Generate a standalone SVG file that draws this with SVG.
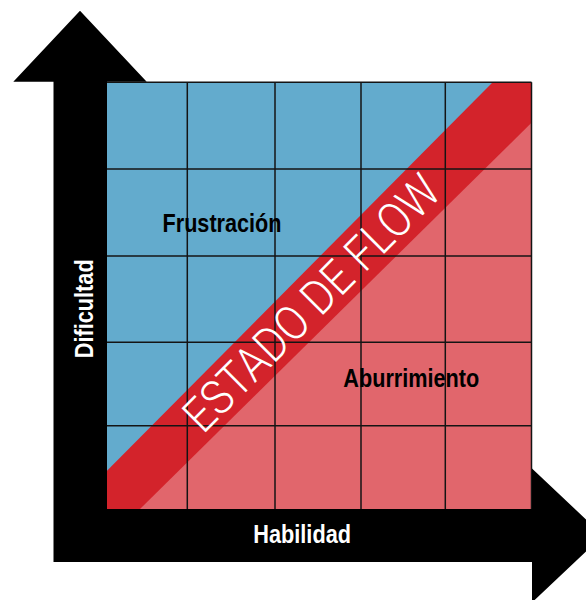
<svg xmlns="http://www.w3.org/2000/svg" width="586" height="600" viewBox="0 0 586 600">
  <style>
    .grid { stroke: #141414; stroke-width: 1.5; fill: none; }
    .lbl { font-family: "Liberation Sans", Arial, sans-serif; font-weight: bold; font-size: 26px; }
    .flow { font-family: "Roboto", "Open Sans", "DejaVu Sans", sans-serif; font-weight: 300; font-size: 48px; fill: #ffffff; }
  </style>
  <rect width="586" height="600" fill="#ffffff"/>
  <g id="chart">
    <rect id="zone-aburrimiento" x="107" y="82.3" width="424.5" height="426.7" fill="#e1666c"/>
    <polygon id="zone-flow" points="107,82.3 531.5,82.3 531.5,122.7 140,509 107,509" fill="#d3232b"/>
    <polygon id="zone-frustracion" points="107,82.3 492.7,82.3 107,470.7" fill="#63abcd"/>
    <g id="grid-lines" class="grid">
      <line x1="187.3" y1="82.3" x2="187.3" y2="509"/>
      <line x1="275" y1="82.3" x2="275" y2="509"/>
      <line x1="361" y1="82.3" x2="361" y2="509"/>
      <line x1="445.3" y1="82.3" x2="445.3" y2="509"/>
      <line x1="531.5" y1="82.3" x2="531.5" y2="509"/>
      <line x1="107" y1="82.3" x2="531.5" y2="82.3"/>
      <line x1="107" y1="169" x2="531.5" y2="169"/>
      <line x1="107" y1="256" x2="531.5" y2="256"/>
      <line x1="107" y1="342.3" x2="531.5" y2="342.3"/>
      <line x1="107" y1="425.7" x2="531.5" y2="425.7"/>
    </g>
  </g>
  <g id="connectors">
    <path id="axes" d="M80,10.7 L146.7,81.7 L107,81.7 L107,509 L532,509 L532,468.5 L603,535.5 L532,602.5 L532,562 L53.5,562 L53.5,81.7 L13.3,81.7 Z" fill="#000000"/>
  </g>
  <g id="label-frustracion">
    <text class="lbl" x="162.5" y="231.5" fill="#000000" textLength="119" lengthAdjust="spacingAndGlyphs">Frustración</text>
  </g>
  <g id="label-aburrimiento">
    <text class="lbl" x="343.3" y="387.3" fill="#000000" textLength="136" lengthAdjust="spacingAndGlyphs">Aburrimiento</text>
  </g>
  <g id="label-habilidad">
    <text class="lbl" x="253.3" y="542.7" fill="#ffffff" textLength="97.7" lengthAdjust="spacingAndGlyphs">Habilidad</text>
  </g>
  <g id="label-dificultad">
    <text class="lbl" transform="translate(92.5,358.3) rotate(-90)" x="0" y="0" fill="#ffffff" textLength="99" lengthAdjust="spacingAndGlyphs">Dificultad</text>
  </g>
  <g id="label-flow">
    <text class="flow" transform="translate(203,435) rotate(-45)" x="0" y="0" textLength="340" lengthAdjust="spacingAndGlyphs">ESTADO DE FLOW</text>
  </g>
</svg>
